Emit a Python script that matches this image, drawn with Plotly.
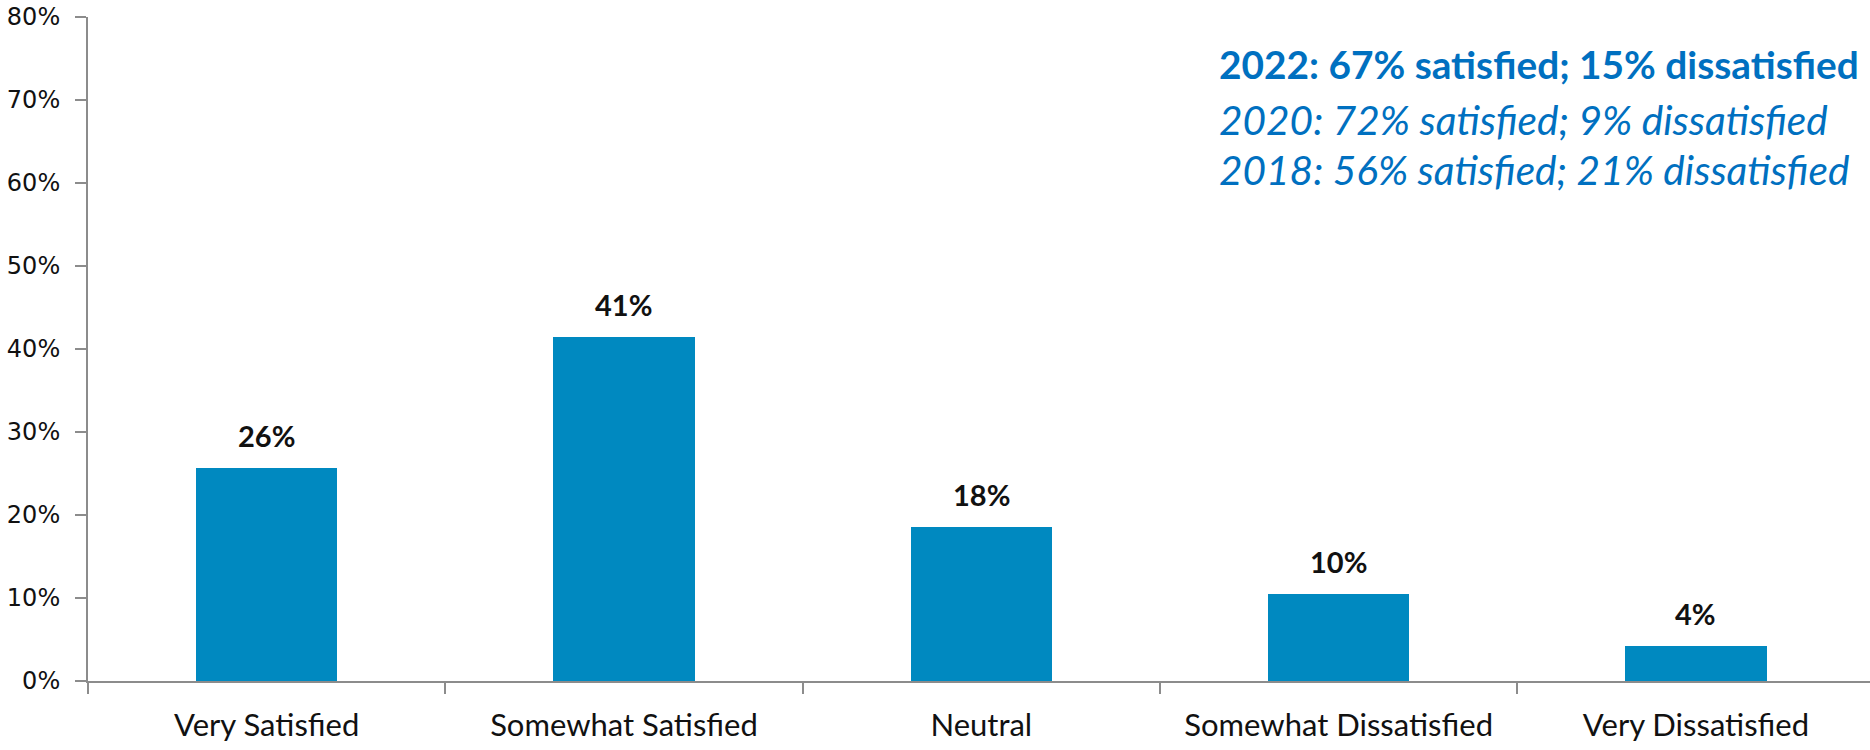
import plotly.graph_objects as go

categories = ["Very Satisfied", "Somewhat Satisfied", "Neutral", "Somewhat Dissatisfied", "Very Dissatisfied"]
values = [25.7, 41.4, 18.5, 10.5, 4.2]
value_labels = ["26%", "41%", "18%", "10%", "4%"]
y_ticks = [0, 10, 20, 30, 40, 50, 60, 70, 80]
y_tick_labels = ["0%", "10%", "20%", "30%", "40%", "50%", "60%", "70%", "80%"]
summary_lines = [
    "2022: 67% satisfied; 15% dissatisfied",
    "2020: 72% satisfied; 9% dissatisfied",
    "2018: 56% satisfied; 21% dissatisfied",
]

BAR_COLOR = "#0089C0"
TEXT_BLUE = "#0070C0"
AXIS_COLOR = "#8C8C8C"

fig = go.Figure()
fig.add_trace(go.Bar(
    x=categories, y=values, width=0.395,
    marker=dict(color=BAR_COLOR, line=dict(width=0)),
    hoverinfo="skip",
))

for c, v, t in zip(categories, values, value_labels):
    fig.add_annotation(x=c, y=v, text="<b>%s</b>" % t, showarrow=False,
                       yanchor="bottom", yshift=13,
                       font=dict(family="Lato", size=29, color="#111111"))

line_y = [64, 119, 169]
line_sizes = [38.8, 40.6, 40.6]
plot_top, plot_bottom = 17, 680.7
for i, (txt, py, fs) in enumerate(zip(summary_lines, line_y, line_sizes)):
    yp = (plot_bottom - py) / (plot_bottom - plot_top)
    fig.add_annotation(
        xref="paper", yref="paper", x=(1217 - 88) / 1782, y=yp,
        xanchor="left", yanchor="middle", showarrow=False,
        text=("<b>%s</b>" % txt) if i == 0 else ("<i>%s</i>" % txt),
        font=dict(family="Lato", size=fs, color=TEXT_BLUE),
    )

fig.update_layout(
    width=1870, height=750,
    margin=dict(l=88, r=0, t=17, b=69, autoexpand=False),
    plot_bgcolor="white", paper_bgcolor="white",
    showlegend=False,
    bargap=0,
)
fig.update_xaxes(
    range=[-0.5, 4.487], automargin=False,
    showline=True, linecolor=AXIS_COLOR, linewidth=2,
    ticks="outside", tickson="boundaries", ticklen=11, tickcolor=AXIS_COLOR, tickwidth=2,
    tickfont=dict(family="Lato", size=31, color="#111111"),
    ticklabelstandoff=16,
    showgrid=False, zeroline=False,
)
fig.update_yaxes(
    range=[0, 80], tickvals=y_ticks, ticktext=y_tick_labels, automargin=False,
    showline=True, linecolor=AXIS_COLOR, linewidth=2,
    ticks="outside", ticklen=11, tickcolor=AXIS_COLOR, tickwidth=2,
    tickfont=dict(family="DejaVu Sans", size=24, color="#111111"),
    ticklabelstandoff=10,
    showgrid=False, zeroline=False,
)

fig.write_html("out.html", config={"displayModeBar": False},
               post_script="document.body.style.margin='0';document.body.style.overflow='hidden';")
